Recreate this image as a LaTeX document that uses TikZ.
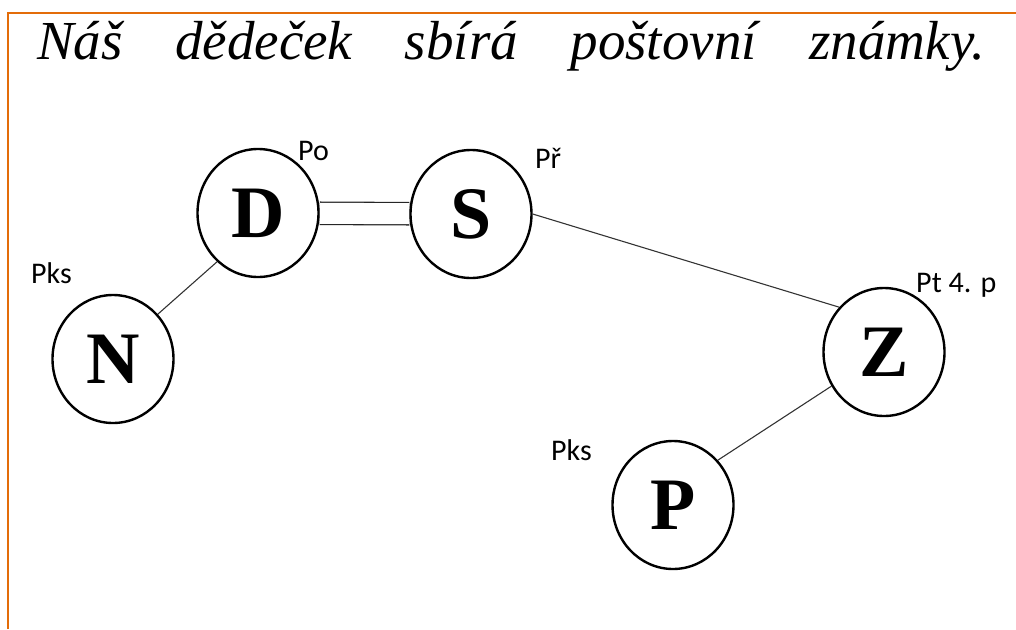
\documentclass[tikz,border=0pt]{standalone}
\usepackage{fontspec}
\setmainfont{Liberation Serif}
\newfontfamily\labfont{Carlito}
\usetikzlibrary{shapes.geometric,backgrounds}
\definecolor{frameorange}{HTML}{E36C09}
\begin{document}
\begin{tikzpicture}[x=1pt,y=-1pt,
  person/.style={ellipse,draw=black,line width=2.4pt,fill=white,minimum width=121pt,minimum height=128pt,inner sep=0pt,font=\bfseries\fontsize{74}{78}\selectfont},
  rel/.style={draw=black!80,line width=1.1pt},
  lab/.style={anchor=base west,inner sep=0pt,font=\labfont\fontsize{30}{32}\selectfont}]
\useasboundingbox (0,0) rectangle (1016,629);
\draw[frameorange,line width=2pt] (8,629) -- (8,13) -- (1016,13);
\node[anchor=base west,inner sep=0pt,font=\itshape\fontsize{55}{60}\selectfont] (title) at (37,59)
  {\makebox[948pt][s]{Náš dědeček sbírá poštovní známky.}};
\node[person] (D) at (258,213) {D};
\node[person] (S) at (471,214) {S};
\node[person] (N) at (113,359) {N};
\node[person] (Z) at (884,352) {Z};
\node[person] (P) at (673,505) {P};
\node[lab] (lPo) at (298,160) {Po};
\node[lab] (lPr) at (535,168) {Př};
\node[lab] (lPks1) at (31,283) {Pks};
\node[lab] (lPt) at (916,292) {Pt 4. p};
\node[lab] (lPks2) at (551,460) {Pks};
\begin{scope}[on background layer]
\draw[draw=black!85,line width=1.3pt,double=white,double distance=21pt] (D) -- (S);
\draw[rel] (N.45) -- (D.230);
\draw[rel] (S.east) -- (Z.135);
\draw[rel] (P.45) -- (Z.213);
\end{scope}
\end{tikzpicture}
\end{document}
